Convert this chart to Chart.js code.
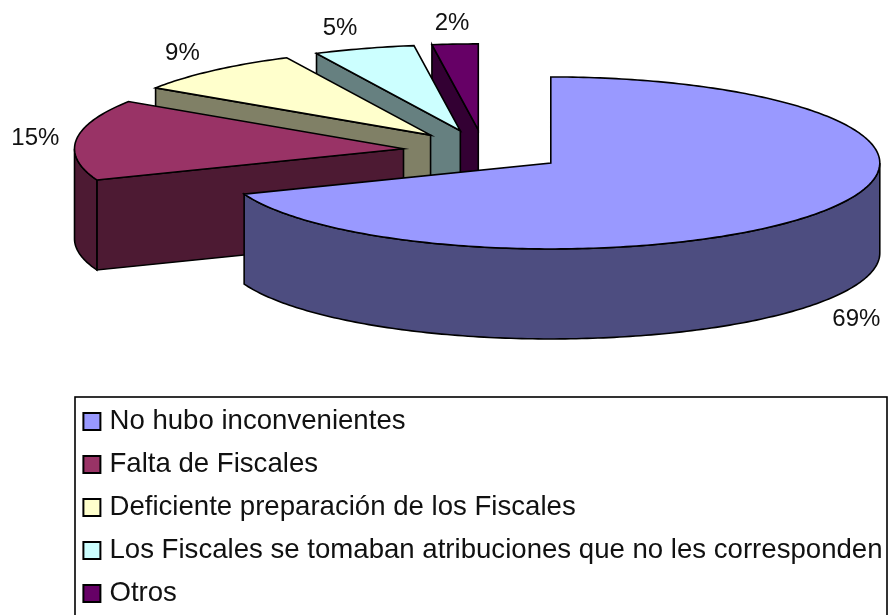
<!DOCTYPE html>
<html>
<head>
<meta charset="utf-8">
<style>html,body{margin:0;padding:0;background:#fff}#wrap{position:relative;width:888px;height:615px;overflow:hidden}</style>
<script src="https://cdn.jsdelivr.net/npm/chart.js@4/dist/chart.umd.min.js"></script>
</head>
<body>
<div id="wrap"><canvas id="c" width="888" height="615"></canvas></div>
<script>
const categories = ["No hubo inconvenientes","Falta de Fiscales","Deficiente preparación de los Fiscales","Los Fiscales se tomaban atribuciones que no les corresponden","Otros"];
const values = [69.1,15.15,8.55,4.95,2.25];
const faceColors = ["#9999FF","#993366","#FFFFCC","#CCFFFF","#660066"];
const wallColors = ["#4D4D80","#4D1A33","#808066","#668080","#330033"];

const pieView = {cx:484, cy:151, rx:329, ry:86, depth:90, radius:300, explode:0.246};
const labelNudge = [[34,108],[-41,-1],[-31,-17],[-24,-20],[-3,-21]];
const legendFrame = {x:75, y:397, w:812, h:240, left:72.75, top:392.4};
const fontFamily = '"Liberation Sans", Arial, sans-serif';

const pie3d = {
  id:'pie3d',
  afterLayout(chart){
    const l = chart.legend;
    l.left = legendFrame.left; l.top = legendFrame.top;
    l.right = legendFrame.left + legendFrame.w; l.bottom = legendFrame.top + 400;
  },
  beforeDatasetsDraw(chart){
    const ctx = chart.ctx, arcs = chart.getDatasetMeta(0).data;
    const V = pieView;
    const R = arcs[0].outerRadius, sx = V.rx/R, sy = V.ry/R;
    const off = V.explode*R;
    const order = arcs.map((_,i)=>i).reverse();
    order.forEach(i=>{
      const a = arcs[i];
      const mid = (a.startAngle+a.endAngle)/2;
      const tx = Math.cos(mid)*off, ty = Math.sin(mid)*off;
      const P = (th,r=R,d=0)=>[V.cx + sx*(tx + Math.cos(th)*r), V.cy + sy*(ty + Math.sin(th)*r) + d];
      const tipT = P(0,0), sT = P(a.startAngle);
      const wallStyle = ()=>{
        ctx.fillStyle = wallColors[i]; ctx.fill();
        ctx.lineWidth = 1.6; ctx.strokeStyle = '#000'; ctx.stroke();
      };
      // radial wall that faces the viewer
      if (a.startAngle > Math.PI/2){
        ctx.beginPath();
        ctx.moveTo(sT[0],sT[1]); ctx.lineTo(tipT[0],tipT[1]);
        ctx.lineTo(tipT[0],tipT[1]+V.depth); ctx.lineTo(sT[0],sT[1]+V.depth); ctx.closePath();
        wallStyle();
      }
      // rim wall
      const s = Math.max(a.startAngle,0), e = Math.min(a.endAngle,Math.PI);
      if (e > s){
        const n = Math.ceil((e-s)*60), top=[], bot=[];
        for(let k=0;k<=n;k++){ const th=s+(e-s)*k/n; top.push(P(th)); bot.push(P(th,R,V.depth)); }
        ctx.beginPath();
        top.forEach((p,k)=>k?ctx.lineTo(p[0],p[1]):ctx.moveTo(p[0],p[1]));
        bot.reverse().forEach(p=>ctx.lineTo(p[0],p[1]));
        ctx.closePath();
        wallStyle();
      }
      // the library's own arc element, squashed into the tilted plane
      ctx.save();
      ctx.translate(V.cx,V.cy); ctx.scale(sx,sy); ctx.translate(tx-a.x,ty-a.y);
      a.draw(ctx);
      ctx.restore();
      // outline of the top face
      const n = Math.ceil((a.endAngle-a.startAngle)*60);
      ctx.beginPath(); ctx.moveTo(tipT[0],tipT[1]);
      for(let k=0;k<=n;k++){ const p=P(a.startAngle+(a.endAngle-a.startAngle)*k/n); ctx.lineTo(p[0],p[1]); }
      ctx.closePath();
      ctx.lineWidth = 1.6; ctx.strokeStyle = '#000'; ctx.stroke();
    });
    return false;
  },
  afterDraw(chart){
    const ctx = chart.ctx, arcs = chart.getDatasetMeta(0).data, V = pieView;
    const R = arcs[0].outerRadius, sx = V.rx/R, sy = V.ry/R;
    ctx.save();
    ctx.font = '24px '+fontFamily; ctx.fillStyle = '#111'; ctx.textAlign='center'; ctx.textBaseline='middle';
    const total = values.reduce((s,v)=>s+v,0);
    arcs.forEach((a,i)=>{
      const mid = (a.startAngle+a.endAngle)/2, r = R*(1+V.explode);
      const x = V.cx + sx*Math.cos(mid)*r + labelNudge[i][0];
      const y = V.cy + sy*Math.sin(mid)*r + labelNudge[i][1];
      ctx.fillText(Math.round(values[i]/total*100)+'%', x, y);
    });
    const F = legendFrame;
    ctx.lineWidth = 1.6; ctx.strokeStyle = '#000';
    ctx.strokeRect(F.x,F.y,F.w,F.h);
    ctx.restore();
  }
};

new Chart(document.getElementById('c'),{
  type:'pie',
  data:{labels:categories,datasets:[{
    data:values, backgroundColor:faceColors, borderWidth:0,
    offset:0, radius:pieView.radius, clip:false
  }]},
  plugins:[pie3d],
  options:{
    responsive:false, animation:false, events:[],
    layout:{padding:0},
    plugins:{
      tooltip:{enabled:false},
      title:{display:false},
      legend:{
        display:true, position:'chartArea', align:'start',
        labels:{
          usePointStyle:true, boxWidth:7.5, boxHeight:17, padding:15.4, color:'#111',
          font:{family:fontFamily,size:27.6},
          generateLabels(chart){
            return Chart.overrides.pie.plugins.legend.labels.generateLabels(chart).map(it=>Object.assign(it,{pointStyle:'rect',strokeStyle:'#000',lineWidth:2}));
          }
        }
      }
    }
  }
});
</script>
</body>
</html>
